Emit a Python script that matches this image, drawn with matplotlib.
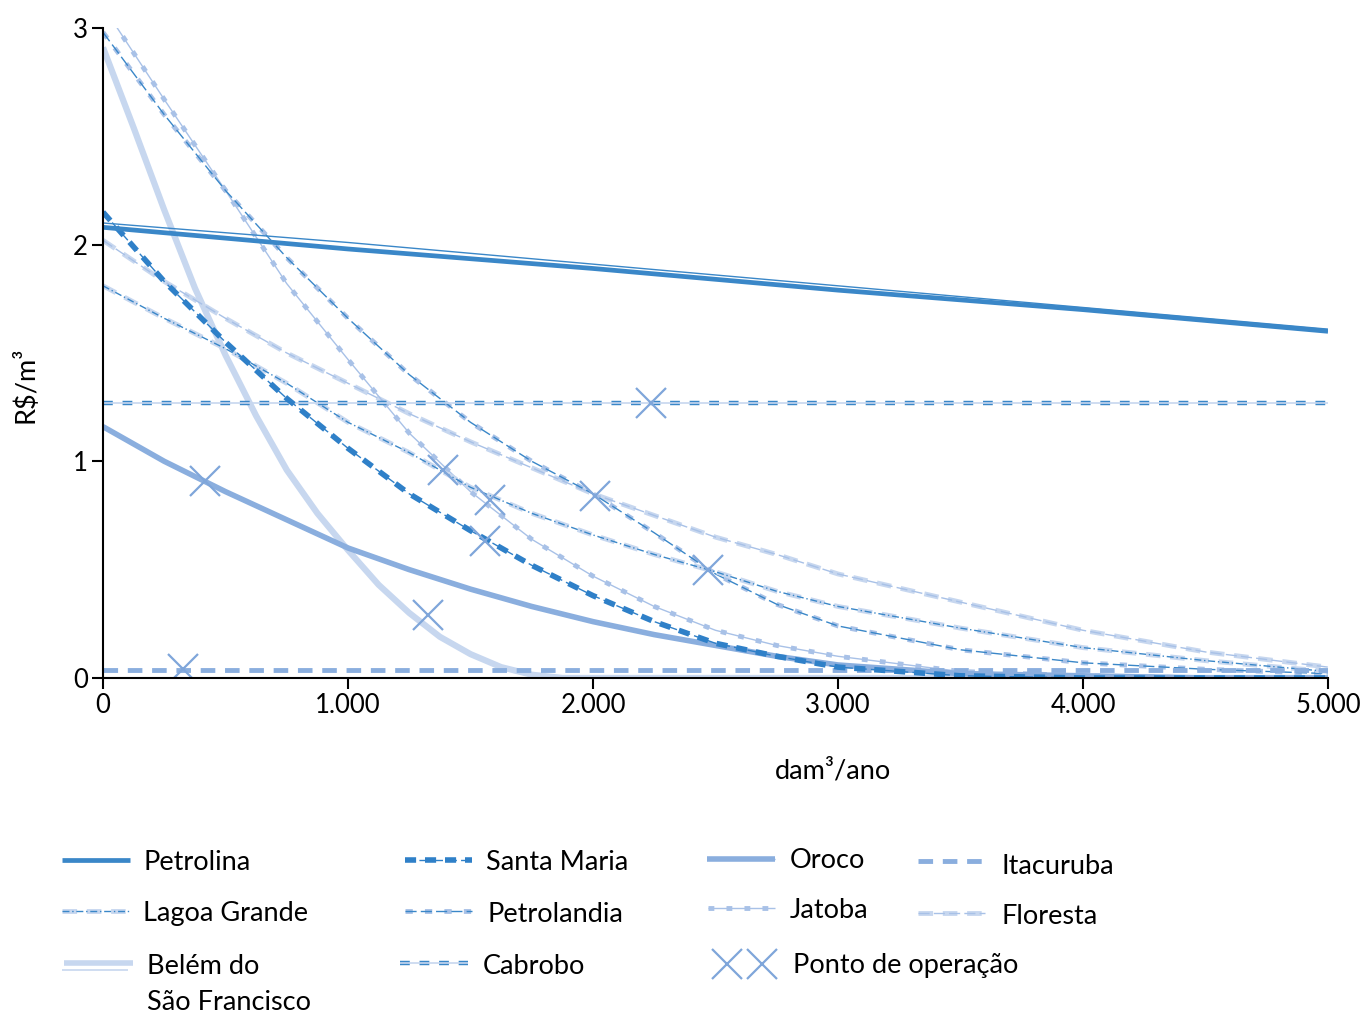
import matplotlib
matplotlib.use("Agg")
import matplotlib.pyplot as plt
from matplotlib.ticker import FuncFormatter

plt.rcParams['font.family'] = ['Lato', 'DejaVu Sans']

# ---------------- data ----------------
x_grid = [0, 250, 500, 750, 1000, 1250, 1500, 1750, 2000, 2250, 2500,
          2750, 3000, 3500, 4000, 4500, 5000]

petrolina_x = [0, 1000, 2000, 3000, 4000, 5000]
petrolina = [2.08, 1.98, 1.89, 1.79, 1.70, 1.60]
petrolina_trend = [2.10, 2.01, 1.91, 1.81, 1.71, 1.61]

lagoa_grande = [1.81, 1.66, 1.52, 1.36, 1.18, 1.04, 0.88, 0.76, 0.66, 0.57, 0.49,
                0.40, 0.33, 0.23, 0.14, 0.08, 0.03]
belem_x = [0, 125, 250, 375, 500, 625, 750, 875, 1000, 1125, 1250, 1375,
           1500, 1625, 1750, 1875, 2500, 3000, 4000, 5000]
belem = [2.91, 2.54, 2.16, 1.80, 1.49, 1.21, 0.96, 0.76, 0.59, 0.43, 0.30, 0.19,
         0.11, 0.05, 0.015, 0.0, 0.0, 0.0, 0.0, 0.0]
santa_maria = [2.15, 1.83, 1.55, 1.29, 1.06, 0.85, 0.68, 0.52, 0.38, 0.26, 0.16,
               0.10, 0.05, 0.01, 0.0, 0.0, 0.0]
petrolandia = [2.98, 2.60, 2.25, 1.94, 1.66, 1.40, 1.18, 1.00, 0.85, 0.67, 0.48,
               0.34, 0.24, 0.13, 0.07, 0.04, 0.02]
cabrobo = [1.27] * len(x_grid)
oroco = [1.16, 1.00, 0.86, 0.73, 0.60, 0.50, 0.41, 0.33, 0.26, 0.20, 0.15,
         0.10, 0.06, 0.02, 0.01, 0.0, 0.0]
jatoba = [3.10, 2.67, 2.25, 1.82, 1.47, 1.13, 0.86, 0.64, 0.47, 0.33, 0.22,
          0.15, 0.10, 0.03, 0.01, 0.0, 0.0]
itacuruba = [0.035] * len(x_grid)
floresta = [2.02, 1.83, 1.66, 1.50, 1.36, 1.22, 1.09, 0.97, 0.85, 0.75, 0.65,
            0.57, 0.48, 0.35, 0.22, 0.12, 0.05]

# operating points
op_x = [416, 327, 1327, 2237, 1559, 1388, 1580, 2008, 2469]
op_y = [0.91, 0.04, 0.29, 1.27, 0.63, 0.96, 0.82, 0.84, 0.50]

x_ticks = [0, 1000, 2000, 3000, 4000, 5000]
y_ticks = [0, 1, 2, 3]

# ---------------- styles ----------------
DARK = '#2f80c8'
MED = '#3a87c8'
MID = '#8aaede'
LIGHTMID = '#a8c1e7'
LIGHT = '#c7d7ef'
XCOL = '#7fa6da'

styles = {
    'Petrolina': [dict(color=MED, lw=3.4, ls='-')],
    'Lagoa Grande': [dict(color=LIGHT, lw=3.5, ls=(0, (3, 2))),
                     dict(color=MED, lw=1.0, ls=(0, (5, 2, 1, 2)))],
    'Belém': [dict(color=LIGHT, lw=4.5, ls='-'),
              dict(color=LIGHT, lw=1.2, ls='-')],
    'Santa Maria': [dict(color=DARK, lw=4.0, ls=(0, (2, 1.6))),
                    dict(color=DARK, lw=1.0, ls=(0, (7, 3)))],
    'Petrolandia': [dict(color=LIGHTMID, lw=3.5, ls=(0, (1.5, 2.5))),
                    dict(color=MED, lw=1.0, ls=(0, (8, 3)))],
    'Cabrobo': [dict(color=MED, lw=3.2, ls=(0, (2.2, 2.2))),
                dict(color=LIGHT, lw=1.2, ls='-')],
    'Oroco': [dict(color=MID, lw=4.0, ls='-'),
              dict(color=MID, lw=1.0, ls='-')],
    'Jatoba': [dict(color=LIGHTMID, lw=3.5, ls=(0, (1.2, 2.5))),
               dict(color=LIGHTMID, lw=1.0, ls='-')],
    'Itacuruba': [dict(color=MID, lw=3.5, ls=(0, (3, 2)))],
    'Floresta': [dict(color=LIGHT, lw=3.5, ls=(0, (3, 2))),
                 dict(color=LIGHTMID, lw=1.0, ls=(0, (8, 3)))],
}

series = [
    ('Belém', belem_x, belem),
    ('Floresta', x_grid, floresta),
    ('Jatoba', x_grid, jatoba),
    ('Petrolandia', x_grid, petrolandia),
    ('Lagoa Grande', x_grid, lagoa_grande),
    ('Oroco', x_grid, oroco),
    ('Itacuruba', x_grid, itacuruba),
    ('Cabrobo', x_grid, cabrobo),
    ('Santa Maria', x_grid, santa_maria),
    ('Petrolina', petrolina_x, petrolina),
]

# ---------------- figure ----------------
fig = plt.figure(figsize=(13.66, 10.14), dpi=100)
ax = fig.add_axes([0.0754, 0.3314, 0.8968, 0.641])

for name, xs, ys in series:
    for st in styles[name]:
        ax.plot(xs, ys, solid_capstyle='butt', dash_capstyle='butt', **st)
ax.plot(petrolina_x, petrolina_trend, color=MED, lw=1.0)

ax.plot(op_x, op_y, ls='none', marker='x', ms=22, mew=1.6, color=XCOL)

ax.set_xlim(0, 5000)
ax.set_ylim(0, 3)
ax.set_xticks(x_ticks)
ax.set_yticks(y_ticks)
ax.xaxis.set_major_formatter(FuncFormatter(lambda v, p: f"{int(v):,}".replace(',', '.')))
for s in ['top', 'right']:
    ax.spines[s].set_visible(False)
for s in ['left', 'bottom']:
    ax.spines[s].set_linewidth(1.5)
ax.tick_params(axis='both', direction='out', length=8, width=1.5, labelsize=18.5, pad=3)

ax.set_xlabel('dam³/ano', fontsize=19.5)
ax.xaxis.set_label_coords(0.596, -0.124)
ax.set_ylabel('R$/m³', fontsize=19.5)
ax.yaxis.set_label_coords(-0.053, 0.451)

# ---------------- legend (manual layout, pixel coordinates) ----------------
lax = fig.add_axes([0, 0, 1, 1], facecolor='none')
lax.set_xlim(0, 1366)
lax.set_ylim(1014, 0)
lax.axis('off')

legend_entries = [
    ('Petrolina', 62, 130, 860, 143, 863),
    ('Lagoa Grande', 62, 130, 911, 143, 914),
    ('Santa Maria', 405, 472, 860, 486, 863),
    ('Petrolandia', 405, 472, 911, 487, 914),
    ('Cabrobo', 400, 468, 963, 483, 966),
    ('Oroco', 707, 775, 859, 790, 861),
    ('Jatoba', 708, 775, 908, 790, 911),
    ('Itacuruba', 918, 985, 861, 1001, 866),
    ('Floresta', 918, 985, 913, 1001, 916),
]
FS = 19.5
for name, x0, x1, yh, xt, yt in legend_entries:
    for st in styles[name]:
        lax.plot([x0, x1], [yh, yh], solid_capstyle='butt', dash_capstyle='butt', **st)
    lax.text(xt, yt, name, fontsize=FS, va='center', ha='left')

# Belém (two-line label, split handle)
lax.plot([64, 133], [963, 963], color=LIGHT, lw=4.0, solid_capstyle='butt')
lax.plot([62, 128], [970, 970], color=LIGHT, lw=1.2, solid_capstyle='butt')
lax.text(147, 966, 'Belém do', fontsize=FS, va='center', ha='left')
lax.text(147, 1002, 'São Francisco', fontsize=FS, va='center', ha='left')

# Ponto de operação
lax.plot([727, 762], [964, 964], ls='none', marker='x', ms=22, mew=1.6, color=XCOL)
lax.text(793, 966, 'Ponto de operação', fontsize=FS, va='center', ha='left')

fig.savefig('out.png', dpi=100)
